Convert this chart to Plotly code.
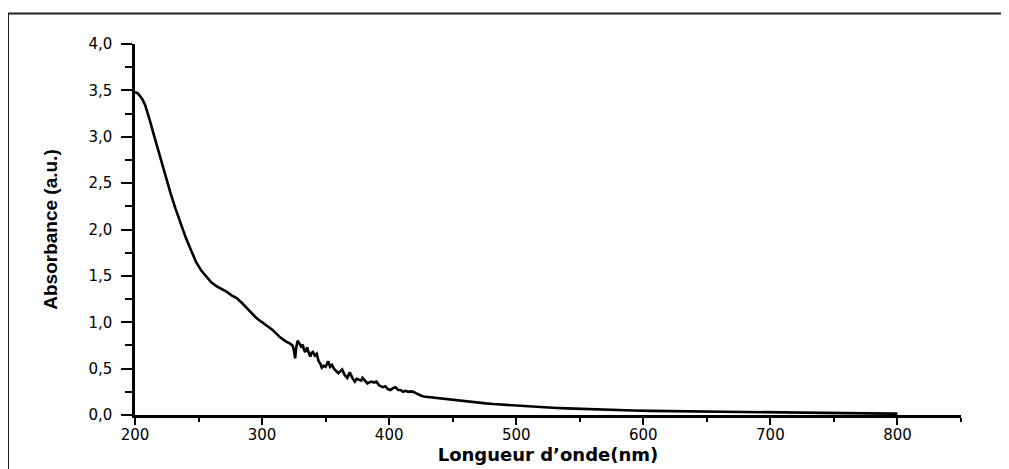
import plotly.graph_objects as go

# Wavelength (nm) and absorbance (a.u.)
wavelength = [200, 202, 204, 206, 208, 210, 212, 214, 216, 218, 220, 224, 228, 232, 236, 240,
              244, 248, 252, 256, 260, 264, 268, 272, 276, 280, 284, 288, 292, 296, 300,
              304, 308, 314, 318, 322,
              324, 325, 326, 327, 328, 329, 330, 331, 332, 333, 334, 335.5, 337, 338, 339,
              340, 341.5, 343, 344.5, 346, 347, 348.5, 350, 352, 353.5, 355, 356.5, 358, 360,
              361.5, 363, 365, 367, 368, 369, 371, 373, 374.5, 376, 378, 379, 381, 383, 384,
              386, 388, 390, 392, 395, 397, 399, 401, 403, 405, 407, 409, 411, 413, 415, 417,
              419, 421, 423, 425, 427, 430, 434, 438, 443, 448, 453, 458, 464, 470, 476, 482, 488,
              494, 500, 508, 516, 524, 532, 540, 553, 566, 579, 592, 606, 620, 645, 670, 698,
              725, 750, 775, 800]
absorbance = [3.48, 3.47, 3.44, 3.40, 3.34, 3.26, 3.16, 3.06, 2.96, 2.87, 2.78, 2.58, 2.39, 2.22, 2.06, 1.91,
              1.78, 1.65, 1.56, 1.49, 1.43, 1.39, 1.36, 1.33, 1.29, 1.26, 1.21, 1.15, 1.09, 1.04, 1.00,
              0.96, 0.92, 0.84, 0.80, 0.77,
              0.75, 0.70, 0.61, 0.74, 0.80, 0.78, 0.75, 0.73, 0.76, 0.70, 0.68, 0.73, 0.66, 0.63, 0.67,
              0.68, 0.64, 0.66, 0.58, 0.55, 0.51, 0.53, 0.52, 0.58, 0.52, 0.54, 0.50, 0.48, 0.45,
              0.47, 0.49, 0.43, 0.40, 0.43, 0.46, 0.40, 0.36, 0.39, 0.38, 0.37, 0.40, 0.37, 0.34, 0.35,
              0.36, 0.35, 0.36, 0.32, 0.30, 0.31, 0.28, 0.27, 0.29, 0.30, 0.27, 0.27, 0.25, 0.26, 0.25, 0.255,
              0.25, 0.235, 0.22, 0.21, 0.20, 0.195, 0.19, 0.18, 0.172, 0.163, 0.155, 0.148, 0.14, 0.132, 0.125, 0.118, 0.112,
              0.106, 0.10, 0.093, 0.087, 0.081, 0.076, 0.071, 0.064, 0.058, 0.053, 0.049, 0.045, 0.042, 0.036, 0.031, 0.026,
              0.022, 0.02, 0.017, 0.015]

x_title = "Longueur d’onde(nm)"
y_title = "Absorbance (a.u.)"

# the page body adds an 8px offset; figure coordinates = screen - 8
W, H = 1001, 461
ML, MT = 127, 36
MR = W - 953
MB = H - 407
pw, ph = W - ML - MR, H - MT - MB

def px(xp):
    return (xp - ML) / pw

def py(yp):
    return (H - MB - yp) / ph

fig = go.Figure()
fig.add_trace(go.Scatter(x=wavelength, y=absorbance, mode="lines",
                         line=dict(color="black", width=2.6), showlegend=False))

tickfont = dict(family="DejaVu Sans", size=15, color="black")

fig.update_layout(
    width=W, height=H,
    margin=dict(l=ML, r=MR, t=MT, b=MB, autoexpand=False),
    paper_bgcolor="white", plot_bgcolor="white",
    separators=",.",
    xaxis=dict(range=[200, 850], showgrid=False, zeroline=False, automargin=False,
               showline=True, linecolor="black", linewidth=2.5,
               tickmode="array", tickvals=[200, 300, 400, 500, 600, 700, 800],
               ticks="outside", ticklen=7, tickwidth=2, tickcolor="black",
               minor=dict(tickvals=[250, 350, 450, 550, 650, 750, 850], ticks="outside",
                          ticklen=4, tickwidth=2, tickcolor="black"),
               tickfont=tickfont, ticklabelstandoff=-3,
               title=dict(text="<b>" + x_title + "</b>", standoff=2,
                          font=dict(family="DejaVu Sans", size=18, color="black"))),
    yaxis=dict(range=[0, 4], showgrid=False, zeroline=False, automargin=False,
               showline=True, linecolor="black", linewidth=2.5,
               tickmode="linear", tick0=0, dtick=0.5, tickformat=".1f",
               ticks="outside", ticklen=11, tickwidth=2, tickcolor="black",
               minor=dict(dtick=0.25, ticks="outside", ticklen=7, tickwidth=2, tickcolor="black"),
               tickfont=tickfont, ticklabelstandoff=6,
               title=dict(text="<b>" + y_title + "</b>", standoff=26,
                          font=dict(family="Liberation Sans Narrow, Arial Narrow, Liberation Sans",
                                    size=19, color="black"))),
    shapes=[dict(type="rect", xref="paper", yref="paper",
                 x0=px(0), x1=px(1030), y0=py(490), y1=py(5.5),
                 line=dict(color="#222", width=2), fillcolor="rgba(0,0,0,0)", layer="below")],
)

fig.write_html("out.html")
